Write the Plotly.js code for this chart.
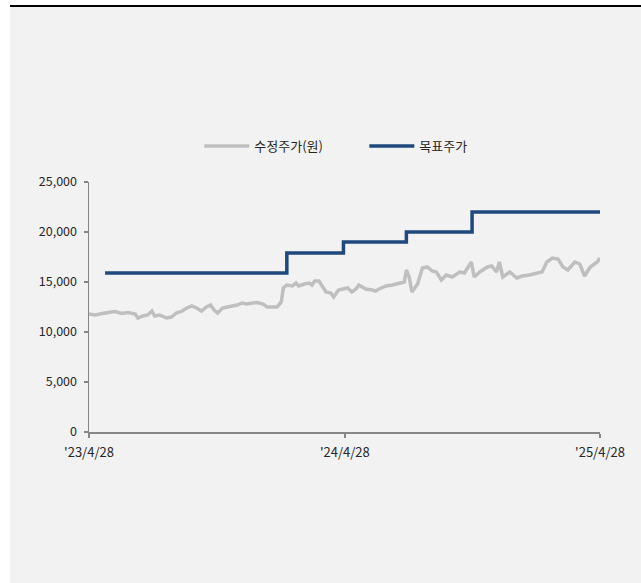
<!DOCTYPE html>
<html>
<head>
<meta charset="utf-8">
<script src="https://cdn.plot.ly/plotly-3.0.1.min.js"></script>
<style>
  html, body { margin: 0; padding: 0; background: #ffffff; width: 641px; height: 583px; overflow: hidden; }
  #topline { position: absolute; left: 10px; top: 5px; width: 631px; height: 2px; background: #000; }
  #chart { position: absolute; left: 10px; top: 7px; width: 631px; height: 576px; }
</style>
</head>
<body>
<div id="topline"></div>
<div id="chart"></div>
<script>
// 수정주가(원) - adjusted share price
const priceDates = [
  '2023-04-28','2023-05-07','2023-05-17','2023-05-25','2023-06-04','2023-06-14','2023-06-23','2023-07-03','2023-07-07','2023-07-14',
  '2023-07-21','2023-07-27','2023-07-31','2023-08-07','2023-08-17','2023-08-24','2023-08-31','2023-09-07','2023-09-15','2023-09-22',
  '2023-09-29','2023-10-06','2023-10-13','2023-10-19','2023-10-24','2023-10-29','2023-11-05','2023-11-12','2023-11-19','2023-11-26',
  '2023-12-03','2023-12-10','2023-12-18','2023-12-25','2024-01-02','2024-01-08','2024-01-15','2024-01-22','2024-01-28','2024-01-31',
  '2024-02-05','2024-02-13','2024-02-18','2024-02-22','2024-03-01','2024-03-08','2024-03-12','2024-03-16','2024-03-22','2024-03-26',
  '2024-04-01','2024-04-08','2024-04-12','2024-04-19','2024-04-25','2024-05-02','2024-05-08','2024-05-14','2024-05-18','2024-05-24',
  '2024-05-28','2024-06-06','2024-06-11','2024-06-16','2024-06-22','2024-06-26','2024-07-05','2024-07-12','2024-07-19','2024-07-22',
  '2024-07-25','2024-07-29','2024-08-02','2024-08-10','2024-08-17','2024-08-24','2024-08-31','2024-09-06','2024-09-13','2024-09-20',
  '2024-09-29','2024-10-09','2024-10-16','2024-10-26','2024-10-30','2024-11-07','2024-11-18','2024-11-24','2024-12-01','2024-12-05',
  '2024-12-10','2024-12-20','2024-12-30','2025-01-07','2025-01-17','2025-01-27','2025-02-04','2025-02-11','2025-02-19','2025-02-27',
  '2025-03-06','2025-03-13','2025-03-23','2025-03-30','2025-04-06','2025-04-14','2025-04-24','2025-04-28'
];
const priceValues = [
  11800,11700,11850,11950,12050,11850,11950,11800,11400,11600,
  11700,12100,11600,11700,11400,11500,11900,12050,12400,12600,
  12400,12100,12500,12700,12200,11900,12400,12500,12600,12700,
  12900,12800,12900,12950,12800,12500,12500,12500,13000,14400,
  14700,14600,14900,14600,14800,14900,14700,15100,15100,14600,
  14000,13900,13500,14200,14300,14400,14000,14300,14700,14500,
  14300,14200,14100,14300,14500,14600,14700,14800,14900,15000,
  16200,15500,14000,14800,16400,16500,16100,16000,15200,15700,
  15500,16000,15900,17000,15500,16000,16500,16600,16000,17000,
  15500,16000,15400,15600,15700,15900,16000,17000,17400,17300,
  16500,16200,17000,16800,15600,16500,17000,17400
];
// 목표주가 - target price (step changes)
const targetDates = ['2023-05-21','2024-02-05','2024-04-26','2024-07-25','2024-10-27','2025-04-28'];
const targetValues = [15900, 17900, 19000, 20000, 22000, 22000];

const xTickVals = ['2023-04-28','2024-04-28','2025-04-28'];
const xTickText = ["'23/4/28","'24/4/28","'25/4/28"];
const yTickVals = [0, 5000, 10000, 15000, 20000, 25000];

const font = "'Noto Sans CJK KR', 'Noto Sans', sans-serif";

const traces = [
  {
    x: priceDates, y: priceValues, type: 'scatter', mode: 'lines', name: '수정주가(원)',
    line: { color: '#bfbfbf', width: 3.5 }
  },
  {
    x: targetDates, y: targetValues, type: 'scatter', mode: 'lines', name: '목표주가',
    line: { color: '#1f497d', width: 3.5, shape: 'hv' }
  }
];

const layout = {
  width: 631, height: 576,
  margin: { l: 79, r: 41, t: 175, b: 151, pad: 0 },
  paper_bgcolor: '#f2f2f2',
  plot_bgcolor: '#f2f2f2',
  font: { family: font, size: 12, color: '#262626' },
  showlegend: true,
  legend: {
    orientation: 'h', x: 0.5388, xanchor: 'center', y: 1.144, yanchor: 'middle',
    bgcolor: 'rgba(0,0,0,0)', font: { family: font, size: 13, color: '#262626' },
    itemwidth: 45, entrywidth: 105, entrywidthmode: 'pixels', tracegroupgap: 0
  },
  xaxis: {
    type: 'date',
    range: ['2023-04-28', '2025-04-28'],
    tickmode: 'array', tickvals: xTickVals, ticktext: xTickText,
    showgrid: false, zeroline: false,
    showline: true, linecolor: '#868686', linewidth: 1.5,
    ticks: 'outside', ticklen: 4, tickcolor: '#868686', tickwidth: 1.5,
    ticklabelstandoff: 4,
    tickfont: { family: font, size: 13, color: '#262626' }
  },
  yaxis: {
    range: [0, 25000],
    tickmode: 'array', tickvals: yTickVals, tickformat: ',d',
    showgrid: false, zeroline: false,
    showline: true, linecolor: '#868686', linewidth: 1.5,
    ticks: 'outside', ticklen: 4, tickcolor: '#868686', tickwidth: 1.5,
    ticklabelstandoff: 4,
    tickfont: { family: font, size: 12.5, color: '#262626' }
  }
};

Plotly.newPlot('chart', traces, layout, { displayModeBar: false, staticPlot: true });
</script>
</body>
</html>
